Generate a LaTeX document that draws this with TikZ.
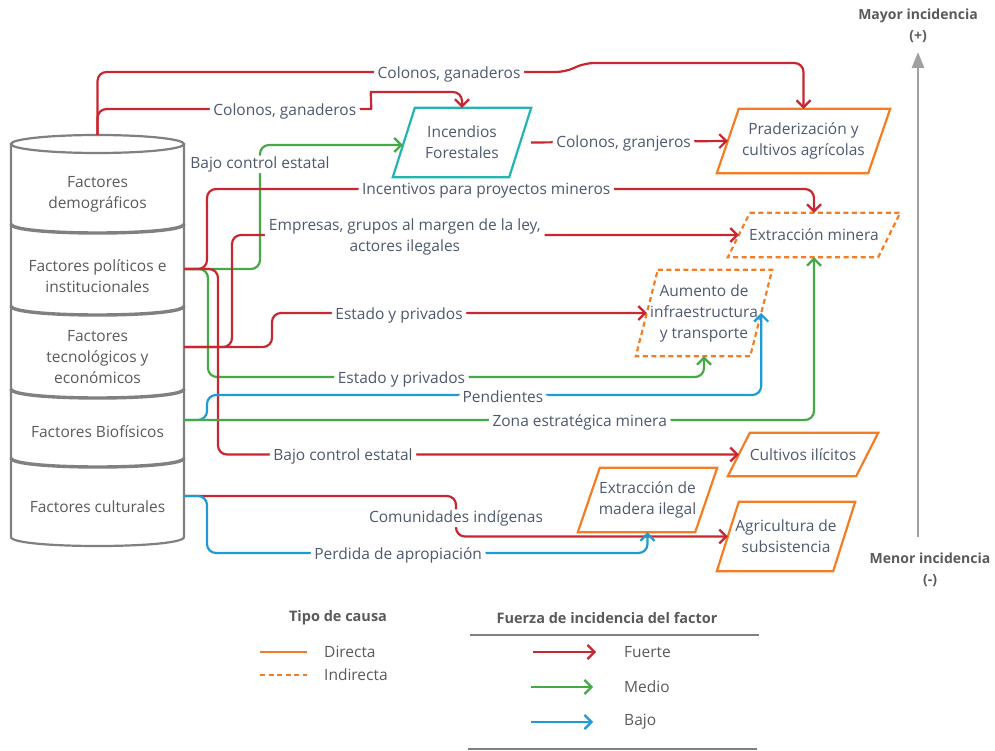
\documentclass[tikz,border=0pt]{standalone}
\usepackage{fontspec}
\setmainfont{Open Sans}
\usetikzlibrary{arrows.meta,positioning,calc}

\definecolor{rojo}{RGB}{200,38,48}
\definecolor{verde}{RGB}{70,168,70}
\definecolor{azul}{RGB}{28,155,215}
\definecolor{naranja}{RGB}{245,124,34}
\definecolor{turquesa}{RGB}{34,180,176}
\definecolor{gris}{RGB}{128,128,128}
\definecolor{pizarra}{RGB}{78,89,110}
\definecolor{textogris}{RGB}{90,90,90}

\begin{document}
\begin{tikzpicture}[
    x=1pt, y=-1pt,
    font=\fontsize{15.5}{21}\selectfont,
    factor/.style={
        minimum width=173pt, align=center, inner sep=0pt, text=textogris
    },
    efecto/.style={
        inner sep=0pt, align=center, text=pizarra
    },
    marco/.style={line width=2.2pt, line join=miter},
    directa/.style={marco, draw=naranja},
    indirecta/.style={directa, dash pattern=on 5pt off 3.5pt},
    incendio/.style={marco, draw=turquesa},
    cilindro/.style={draw=gris, line width=2.2pt},
    division/.style={draw=gris, line width=3.4pt},
    flujo/.style={
        line width=2.2pt, rounded corners=9pt,
        -{Straight Barb[length=7pt, width=14pt]}
    },
    fuerte/.style={flujo, draw=rojo},
    medio/.style={flujo, draw=verde},
    bajo/.style={flujo, draw=azul},
    lbl/.style={fill=white, text=pizarra, inner xsep=4pt, inner ysep=1pt, align=center, yshift=-2pt},
    legtitulo/.style={text=textogris, font=\fontsize{14.5}{17}\selectfont\bfseries},
    legtexto/.style={text=textogris, anchor=west, inner sep=0pt},
    regla/.style={draw=gris, line width=1.8pt}
]
\useasboundingbox (0,0) rectangle (995,751);

% Cylinder of factors
\draw[cilindro] (11,144) -- (11,537) .. controls (11,549) and (184,549) .. (184,537) -- (184,144);
\draw[cilindro] (97.5,144) ellipse[x radius=86.5pt, y radius=9pt];
\foreach \y in {224,306,389,458}
    \draw[division] (11,\y) .. controls (11,\y+12) and (184,\y+12) .. (184,\y);
\coordinate (cyltop) at (97.5,135);

\node[factor] (demo) at (97.5,194) {Factores\\demográficos};
\node[factor] (pol)  at (97.5,276) {Factores políticos e\\institucionales};
\node[factor] (tec)  at (97.5,357) {Factores\\tecnológicos y\\económicos};
\node[factor] (bio)  at (97.5,432) {Factores Biofísicos};
\node[factor] (cult) at (97.5,507) {Factores culturales};

% Effects
\node[efecto, minimum width=138pt, minimum height=69pt] (incendios) at (462,142.5) {Incendios\\Forestales};
\node[efecto, minimum width=173pt, minimum height=64pt] (praderas) at (803.5,141) {Praderización y\\cultivos agrícolas};
\node[efecto, minimum width=172pt, minimum height=44pt] (mineria) at (814,235) {Extracción minera};
\node[efecto, minimum width=136pt, minimum height=86pt] (infra) at (704,313) {Aumento de\\infraestructura\\y transporte};
\node[efecto, minimum width=150pt, minimum height=43pt] (ilicitos) at (803,454.5) {Cultivos ilícitos};
\node[efecto, minimum width=139pt, minimum height=64pt] (madera) at (647.5,500) {Extracción de\\madera ilegal};
\node[efecto, minimum width=138pt, minimum height=69pt] (agricultura) at (786,536.5) {Agricultura de\\subsistencia};

\foreach \n/\s in {incendios/incendio, praderas/directa, mineria/indirecta, infra/indirecta,
                   ilicitos/directa, madera/directa, agricultura/directa}
    \draw[\s] ([xshift=22pt]\n.north west) -- (\n.north east) -- ([xshift=-22pt]\n.south east) -- (\n.south west) -- cycle;

% Demographic factors
\draw[fuerte] (cyltop) |- node[lbl, pos=0.876] {Colonos, ganaderos} (565,72) -- (585,63) -| (praderas.north);
\draw[fuerte] (cyltop) |- node[lbl, pos=0.854] {Colonos, ganaderos} (362,109) to[out=0, in=180] (380,92) -| (incendios.north);
\draw[fuerte] (incendios.east) -- node[lbl, pos=0.47] {Colonos, granjeros} ([xshift=11pt]praderas.west);

% Political and institutional factors
\draw[medio] ([yshift=7pt]pol.east) -| node[lbl, pos=0.93] {Bajo control estatal} (260,145) -- ([xshift=10pt, yshift=-2.5pt]incendios.west);
\draw[fuerte] ([yshift=7pt]pol.east) -| (207,189) -| node[lbl, pos=0.23] {Incentivos para proyectos mineros} (mineria.north);
\draw[medio] ([yshift=7pt]pol.east) -| (208,377) -| node[lbl, pos=0.195] {Estado y privados} (infra.south);
\draw[fuerte] ([yshift=7pt]pol.east) -| (218,454.5) -- node[lbl, pos=0.24] {Bajo control estatal} ([xshift=11pt]ilicitos.west);

% Technological and economic factors
\draw[fuerte] ([yshift=10pt]tec.east) -| (232,235) -- node[lbl, pos=0.341] {Empresas, grupos al margen de la ley,\\actores ilegales} ([xshift=11pt]mineria.west);
\draw[fuerte] ([yshift=10pt]tec.east) -| (272,313) -- node[lbl, pos=0.339] {Estado y privados} ([xshift=11pt]infra.west);

% Biophysical factors
\draw[bajo] ([yshift=12pt]bio.east) -| (207,395) -| node[lbl, pos=0.267] {Pendientes} ([xshift=-11pt]infra.east);
\draw[medio] ([yshift=12pt]bio.east) -| node[lbl, pos=0.314] {Zona estratégica minera} (mineria.south);

% Cultural factors
\draw[fuerte] ([yshift=11pt]cult.east) -| node[lbl, pos=0.75] {Comunidades indígenas} (456,536.5) -- ([xshift=11pt]agricultura.west);
\draw[bajo] ([yshift=11pt]cult.east) -| (207,553) -| node[lbl, pos=0.217] {Perdida de apropiación} (madera.south);

% Legend
\node[legtitulo] (tipo) at (338,618) {Tipo de causa};
\draw[directa, line width=2pt] (260,652) -- (307,652);
\node[legtexto] (dir) at (324,652) {Directa};
\draw[indirecta, line width=2pt] (260,675) -- (307,675);
\node[legtexto] (ind) at (324,675) {Indirecta};

\node[legtitulo] (fuerza) at (607,618) {Fuerza de incidencia del factor};
\draw[regla] (470,635) -- (759,635);
\draw[fuerte] (533,652) -- (596,652);
\node[legtexto] (fue) at (624,652) {Fuerte};
\draw[medio] (531,687) -- (593,687);
\node[legtexto] (med) at (624,687) {Medio};
\draw[bajo] (531,722) -- (593,722);
\node[legtexto] (baj) at (624,722) {Bajo};
\draw[regla] (468,749) -- (757,749);

% Incidence axis
\node[legtitulo, align=center, font=\fontsize{14}{21}\selectfont\bfseries] (mayor) at (918,26) {Mayor incidencia\\(+)};
\node[legtitulo, align=center, font=\fontsize{14}{21}\selectfont\bfseries] (menor) at (930,570) {Menor incidencia\\(-)};
\draw[draw=gris!75, line width=2.8pt, -{Triangle[length=16pt, width=12pt]}] (918,537) -- (918,52);

\end{tikzpicture}
\end{document}
